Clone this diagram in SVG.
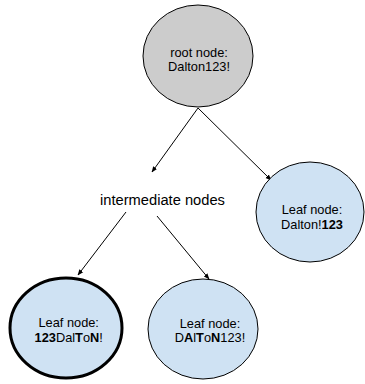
<svg xmlns="http://www.w3.org/2000/svg" width="365" height="384" viewBox="0 0 365 384">
<style>
text{font-family:"Liberation Sans",Arial,sans-serif;fill:#000;}
.n{font-size:12.8px;text-anchor:middle;}
.b{font-weight:bold;}
.root{fill:#cccccc;stroke:#000;stroke-width:1;}
.leaf{fill:#cfe2f3;stroke:#000;stroke-width:1;}
.thick{stroke-width:3;}
.c{stroke:#000;stroke-width:1;fill:none;marker-end:url(#ah);}
</style>
<defs>
<marker id="ah" viewBox="0 0 10 10" refX="9" refY="5" markerWidth="6" markerHeight="6" orient="auto" markerUnits="userSpaceOnUse">
<path d="M0,1 L10,5 L0,9 Z" fill="#000"/>
</marker>
</defs>
<rect width="365" height="384" fill="#fff"/>
<g id="connectors">
<line class="c" x1="198" y1="108" x2="152" y2="172"/>
<line class="c" x1="198" y1="108" x2="271" y2="180"/>
<line class="c" x1="126" y1="212" x2="78" y2="275"/>
<line class="c" x1="157" y1="216" x2="209" y2="279"/>
</g>
<g id="root">
<ellipse class="root" cx="198" cy="56" rx="55" ry="51"/>
<text class="n" x="199" y="57">root node:</text>
<text class="n" x="199" y="71">Dalton123!</text>
</g>
<g id="intermediate">
<text x="162.5" y="205" font-size="14.7" text-anchor="middle">intermediate nodes</text>
</g>
<g id="leaf-right">
<ellipse class="leaf" cx="310" cy="212" rx="54" ry="50"/>
<text class="n" x="312" y="214">Leaf node:</text>
<text class="n" x="312" y="229">Dalton!<tspan class="b">123</tspan></text>
</g>
<g id="leaf-left">
<ellipse class="leaf thick" cx="66" cy="328" rx="56" ry="50"/>
<text class="n" x="68.7" y="327">Leaf node:</text>
<text class="n" x="68.7" y="342"><tspan class="b">123</tspan>Dal<tspan class="b">T</tspan>o<tspan class="b">N</tspan>!</text>
</g>
<g id="leaf-middle">
<ellipse class="leaf" cx="203" cy="329" rx="55" ry="50"/>
<text class="n" x="210" y="328">Leaf node:</text>
<text class="n" x="210" y="342">D<tspan class="b">A</tspan>l<tspan class="b">T</tspan>o<tspan class="b">N</tspan>123!</text>
</g>
</svg>
